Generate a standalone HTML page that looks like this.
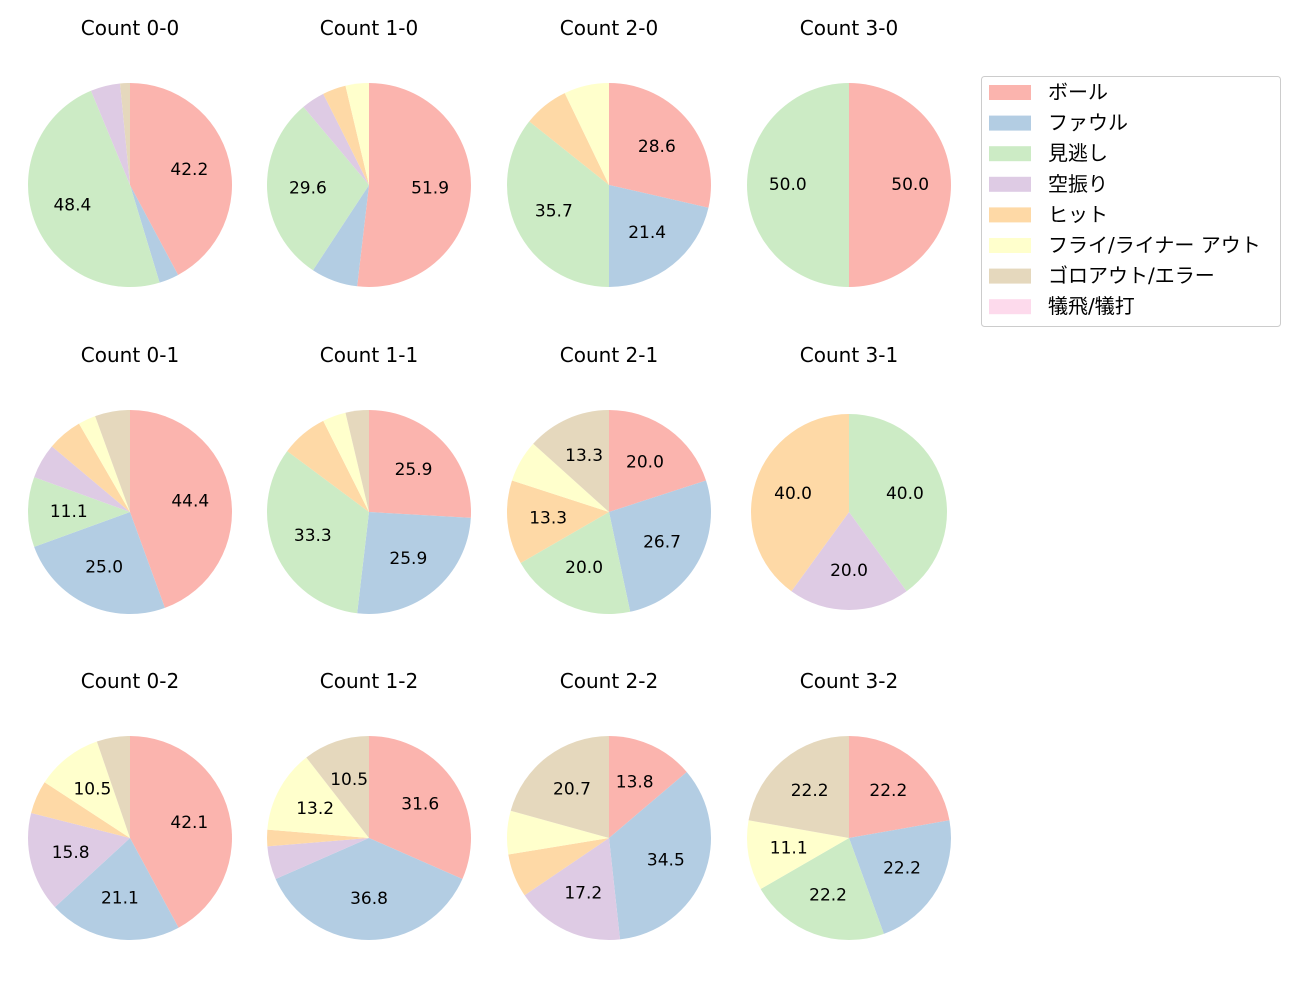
<!DOCTYPE html>
<html><head><meta charset="utf-8"><style>
body{margin:0;background:#fff;}
svg text{font-family:"DejaVu Sans","Noto Sans CJK JP",sans-serif;}
</style></head><body>
<svg id="c" width="1300" height="1000" viewBox="0 0 1300 1000"></svg>
<script>
const categories=["ボール","ファウル","見逃し","空振り","ヒット","フライ/ライナー アウト","ゴロアウト/エラー","犠飛/犠打"];
const colors=["#fbb4ae","#b3cde3","#ccebc5","#decbe4","#fed9a6","#ffffcc","#e5d8bd","#fddaec"];
const titles=["Count 0-0","Count 1-0","Count 2-0","Count 3-0","Count 0-1","Count 1-1","Count 2-1","Count 3-1","Count 0-2","Count 1-2","Count 2-2","Count 3-2"];
const counts00=[27,2,31,3,0,0,1,0];
const counts10=[14,2,8,1,1,1,0,0];
const counts20=[4,3,5,0,1,1,0,0];
const counts30=[1,0,1,0,0,0,0,0];
const counts01=[16,9,4,2,2,1,2,0];
const counts11=[7,7,9,0,2,1,1,0];
const counts21=[3,4,3,0,2,1,2,0];
const counts31=[0,0,2,1,2,0,0,0];
const counts02=[16,8,0,6,2,4,2,0];
const counts12=[12,14,0,2,1,5,4,0];
const counts22=[4,10,0,5,2,2,6,0];
const counts32=[2,2,2,0,0,1,2,0];
const allCounts=[counts00,counts10,counts20,counts30,counts01,counts11,counts21,counts31,counts02,counts12,counts22,counts32];
const NS="http://www.w3.org/2000/svg";
const svg=document.getElementById('c');
const cxs=[130,369,609,849], cys=[185,512,838], R=[102,102,102,102,102,102,102,98,102,102,102,102];
function mk(t,a){const e=document.createElementNS(NS,t);for(const k in a)e.setAttribute(k,a[k]);return e;}
allCounts.forEach((vals,i)=>{
  const cx=cxs[i%4], cy=cys[Math.floor(i/4)], r=R[i];
  const g=mk('g',{});
  
  
  svg.appendChild(g);
  const t=mk('text',{x:cx,y:(cy-150),'text-anchor':'middle','font-size':'20'});
  
  
  t.textContent=titles[i];g.appendChild(t);
  const tot=vals.reduce((a,b)=>a+b,0);
  let ang=90;
  vals.forEach((v,j)=>{
    if(v<=0)return;
    const sw=v/tot*360, a0=ang*Math.PI/180, a1=(ang-sw)*Math.PI/180;
    let el;
    if(sw>=359.99){el=mk('circle',{cx:cx,cy:cy,r:r,fill:colors[j]});}
    else{
      const x0=cx+r*Math.cos(a0),y0=cy-r*Math.sin(a0),x1=cx+r*Math.cos(a1),y1=cy-r*Math.sin(a1);
      el=mk('path',{d:`M${cx},${cy}L${x0},${y0}A${r},${r} 0 ${sw>180?1:0} 1 ${x1},${y1}Z`,fill:colors[j]});
    }
    
    
    g.appendChild(el);
    const pct=v/tot*100;
    if(pct>=10){
      const m=(ang-sw/2)*Math.PI/180;
      const lt=mk('text',{x:cx+0.6*r*Math.cos(m),y:cy-0.6*r*Math.sin(m)+5,'text-anchor':'middle','font-size':'17'});
      
      
      lt.textContent=pct.toFixed(1);g.appendChild(lt);
    }
    ang-=sw;
  });
});
const lg=mk('g',{});


svg.appendChild(lg);
lg.appendChild(mk('rect',{x:981.5,y:76.5,width:299,height:250,rx:3,fill:'#fff',stroke:'#ccc'}));
categories.forEach((c,j)=>{
  const y=92+j*30.6;
  const p=mk('rect',{x:989,y:y-7,width:42,height:15,fill:colors[j]});
  
  
  lg.appendChild(p);
  const t=mk('text',{x:1048,y:y+7,'font-size':'20'});
  
  
  t.textContent=c;lg.appendChild(t);
});
</script>
</body></html>
